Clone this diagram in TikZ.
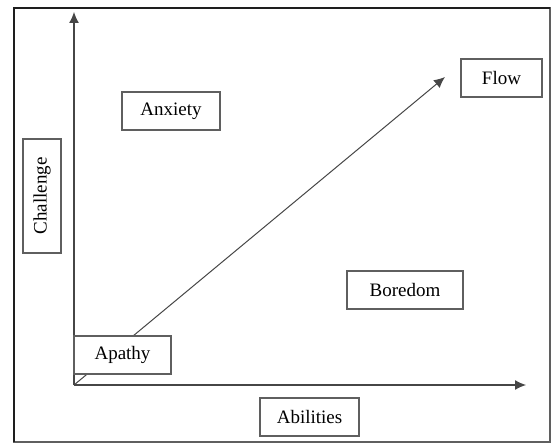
\documentclass[tikz,border=0pt]{standalone}
\usepackage{fontspec}
\setmainfont{Liberation Serif}
\usepackage{tikz}
\usetikzlibrary{calc}
\usetikzlibrary{arrows.meta}
\usetikzlibrary{positioning}
\usepackage{color}
\definecolor{boxline}{RGB}{95, 95, 95}
\definecolor{axisline}{RGB}{70, 70, 70}
\definecolor{frameline}{RGB}{30, 30, 30}
\tikzset{
    zonebox/.style ={draw=boxline, fill=white, line width=0.8pt, inner sep=0pt,
                     minimum height=19pt, font=\fontsize{9.5}{11}\selectfont},
    axisarrow/.style={draw=axisline, line width=0.6pt, -{Latex[length=5.5pt, width=5pt]}}
}

\begin{document}
\begin{tikzpicture}[x=0.5pt, y=-0.5pt]
            \useasboundingbox                                        (  0,  0) rectangle (551,443);
            \draw[color=boxline,    line width=0.6pt]                ( 14,  8) rectangle (550,442);
            \draw[color=frameline,  line width=1.1pt]                ( 14,442) -- ( 14,  8) -- (550,  8);
            % axes and the flow line
            \coordinate (origin) at ( 74,385);
            \coordinate (ytop)   at ( 74, 12);
            \coordinate (xend)   at (526,385);
            \coordinate (tip)    at (445, 77);
            \draw[axisarrow]                                         (origin) -- (ytop);
            \draw[axisarrow]                                         (origin) -- (xend);
            \draw[axisarrow, line width=0.5pt]                       (origin) -- (tip);
            % zones
            \node[zonebox, minimum width=49pt]                 (anxiety)   at (171.0,111.0) {Anxiety};
            \node[zonebox, minimum width=40.5pt]               (flow)      at (501.5, 78.0) {Flow\hspace{5pt}};
            \node[zonebox, minimum width=58pt]                 (boredom)   at (405.0,290.0) {Boredom\hspace{5pt}};
            \node[zonebox, minimum width=48.5pt]               (apathy)    at (122.5,355.0) {Apathy\hspace{3pt}};
            \node[zonebox, minimum width=49.5pt]               (abilities) at (309.5,417.0) {Abilities};
            \node[zonebox, minimum width=57pt, rotate=90]      (challenge) at ( 42.0,196.0) {Challenge};
        \end{tikzpicture}
\end{document}
